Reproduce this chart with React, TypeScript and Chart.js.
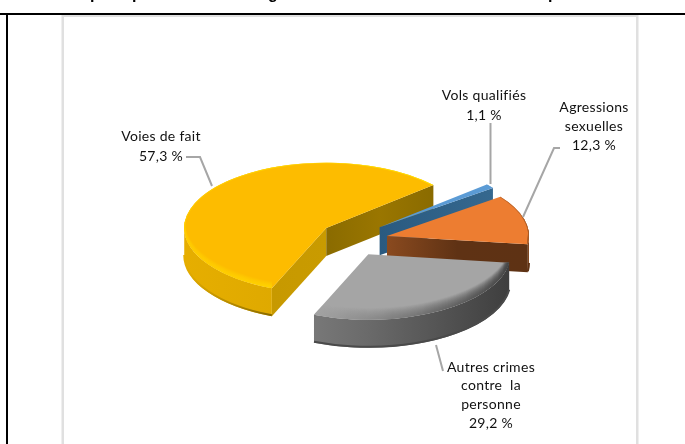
import React, { useEffect, useRef } from "react";
import { Chart, registerables } from "chart.js";

Chart.register(...registerables);

const categories = ["Vols qualifiés", "Agressions sexuelles", "Autres crimes contre la personne", "Voies de fait"];
const values = [1.1, 12.3, 29.2, 57.3];
const valueLabels = ["1,1 %", "12,3 %", "29,2 %", "57,3 %"];
const labelLines = [
  ["Vols qualifiés", "1,1 %"],
  ["Agressions", "sexuelles", "12,3 %"],
  ["Autres crimes", "contre  la", "personne", "29,2 %"],
  ["Voies de fait", "57,3 %"],
];
const topColors = ["#5b9bd5", "#ed7d31", "#a5a5a5", "#fdbc00"];

const SQUASH = 0.46;
const DEPTH = 28;
const EXPLODE = 33.6;
const PAINT_ORDER = [3, 0, 1, 2];

const sliceNudge = [
  { x: -1, y: 0 },
  { x: 0, y: 3 },
  { x: -3, y: 4 },
  { x: -1, y: 0 },
];
const sliceStyles = [
  { rim: ["#2f5f85", "#2f5f85"], cut: ["#2a5a80", "#35688f"], bevel: ["#5b9bd5", "#5b9bd5"], bevelSize: 1, base: ["#2f5f85", "#2f5f85"] },
  { rim: ["#5f3214", "#7d431b"], cut: ["#8a4a1f", "#5f3214", "#5e3214"], bevel: ["#ed7d31", "#ed7d31", "#ed7d31", "#a95a24"], bevelSize: 7, base: ["#5f3214", "#5f3214"] },
  { rim: ["#8e8e8e", "#6a6a6a", "#3e3e3e"], cut: ["#555555", "#555555"], bevel: ["#c8c8c8", "#8c8c8c", "#454545"], bevelSize: 11, base: ["#4a4a4a", "#4a4a4a"] },
  { rim: ["#e6ae00", "#cf9f00"], cut: ["#c79900", "#c99b00"], bevel: ["#ffcb00", "#ffe600"], bevelSize: 6, base: ["#e6ae00", "#7f6300", "#7f6300", "#7f6300"] },
];
const backCut = ["#8a6b00", "#9a7600", "#8a6b00"];

const labelAnchors = [
  { x: 484, y: 95, dy: 20 },
  { x: 594, y: 107, dy: 19 },
  { x: 491, y: 367, dy: 18.7 },
  { x: 161, y: 136, dy: 20 },
];
const leaders = [
  [[490.5, 123], [490.5, 184]],
  [[560, 148], [554, 148], [523, 217]],
  [[436, 345], [443, 371]],
  [[186, 157], [200, 157], [212, 186]],
];
const titleFragments = [
  { text: "p", x: 90 },
  { text: "p", x: 132 },
  { text: "g", x: 268 },
  { text: "p", x: 548 },
];

function gradientOf(ctx: CanvasRenderingContext2D, x0: number, x1: number, stops: string[]) {
  const g = ctx.createLinearGradient(x0, 0, x1, 0);
  stops.forEach((c, i) => g.addColorStop(i / (stops.length - 1), c));
  return g;
}

const pie3d = {
  id: "pie3d",
  beforeDraw(chart: any) {
    const ctx: CanvasRenderingContext2D = chart.ctx;
    ctx.save();
    ctx.fillStyle = "#ffffff";
    ctx.fillRect(0, 0, 685, 444);
    ctx.fillStyle = "#e0e0e0";
    ctx.fillRect(62, 15, 576, 2);
    ctx.fillRect(61.5, 15, 2.5, 429);
    ctx.fillRect(636, 15, 2.5, 429);
    ctx.fillStyle = "#ffffff";
    ctx.fillRect(64, 17, 572, 427);
    ctx.fillStyle = "#000000";
    ctx.fillRect(0, 13, 685, 2);
    ctx.fillRect(6, 13, 2, 431);
    ctx.font = "bold 16px 'Liberation Sans'";
    ctx.textBaseline = "alphabetic";
    ctx.textAlign = "left";
    titleFragments.forEach((t) => ctx.fillText(t.text, t.x, -1));
    ctx.restore();
  },
  beforeDatasetDraw(chart: any) {
    const ctx: CanvasRenderingContext2D = chart.ctx;
    const meta = chart.getDatasetMeta(0);
    PAINT_ORDER.forEach((i) => {
      const el = meta.data[i];
      const st = sliceStyles[i];
      const { startAngle: a0, endAngle: a1, outerRadius: R } = el;
      const mid = (a0 + a1) / 2;
      const ax = el.x + Math.cos(mid) * EXPLODE + sliceNudge[i].x;
      const ay = el.y + Math.sin(mid) * EXPLODE * SQUASH + sliceNudge[i].y;
      const rx = (a: number) => ax + Math.cos(a) * R;
      const ry = (a: number) => ay + Math.sin(a) * R * SQUASH;

      ctx.save();
      const cutFace = (a: number, stops: string[]) => {
        ctx.beginPath();
        ctx.moveTo(ax, ay);
        ctx.lineTo(rx(a), ry(a));
        ctx.lineTo(rx(a), ry(a) + DEPTH);
        ctx.lineTo(ax, ay + DEPTH);
        ctx.closePath();
        ctx.fillStyle = gradientOf(ctx, Math.min(ax, rx(a)), Math.max(ax, rx(a)), stops);
        ctx.fill();
      };
      if (Math.sin(a0 - Math.PI / 2) > 0) cutFace(a0, st.cut);
      if (Math.sin(a1 + Math.PI / 2) > 0) cutFace(a1, i === 3 ? backCut : st.cut);

      // outer rim: a single band between the top and bottom arcs
      const lo = Math.max(a0, 0);
      const hi = Math.min(a1, Math.PI);
      if (lo < hi) {
        ctx.beginPath();
        ctx.ellipse(ax, ay, R, R * SQUASH, 0, lo, hi);
        ctx.ellipse(ax, ay + DEPTH, R, R * SQUASH, 0, hi, lo, true);
        ctx.closePath();
        ctx.fillStyle = gradientOf(ctx, ax - R, ax + R, st.rim);
        ctx.fill();
        ctx.beginPath();
        ctx.ellipse(ax, ay + DEPTH - 1, R, R * SQUASH, 0, lo, hi);
        ctx.strokeStyle = gradientOf(ctx, ax - R, ax + R, st.base);
        ctx.lineWidth = 2;
        ctx.stroke();
      }

      // top face, drawn by the chart's own arc element
      ctx.save();
      ctx.translate(ax, ay);
      ctx.scale(1, SQUASH);
      ctx.translate(-el.x, -el.y);
      el.draw(ctx);
      ctx.restore();

      // bevel along the rim of the top face
      ctx.beginPath();
      ctx.moveTo(ax, ay);
      ctx.ellipse(ax, ay, R, R * SQUASH, 0, a0, a1);
      ctx.closePath();
      ctx.clip();
      ctx.strokeStyle = gradientOf(ctx, ax - R, ax + R, st.bevel);
      ctx.lineWidth = 1.6;
      for (let j = st.bevelSize; j >= 0; j -= 1) {
        ctx.globalAlpha = 1 - j / (st.bevelSize + 1);
        ctx.beginPath();
        ctx.ellipse(ax, ay - j, R, R * SQUASH, 0, a0, a1);
        ctx.stroke();
      }
      ctx.restore();
    });
    return false;
  },
  afterDatasetsDraw(chart: any) {
    const ctx: CanvasRenderingContext2D = chart.ctx;
    ctx.save();
    ctx.strokeStyle = "#a6a6a6";
    ctx.lineWidth = 2;
    leaders.forEach((pts) => {
      ctx.beginPath();
      pts.forEach((p, n) => (n ? ctx.lineTo(p[0], p[1]) : ctx.moveTo(p[0], p[1])));
      ctx.stroke();
    });
    ctx.fillStyle = "#111111";
    ctx.font = "14px Lato";
    (ctx as any).letterSpacing = "0.3px";
    ctx.textAlign = "center";
    ctx.textBaseline = "middle";
    labelLines.forEach((lines, i) => {
      const a = labelAnchors[i];
      lines.forEach((t, n) => ctx.fillText(t, a.x, a.y + n * a.dy));
    });
    ctx.restore();
  },
};

export default function App() {
  const ref = useRef<HTMLCanvasElement>(null);
  useEffect(() => {
    const chart = new Chart(ref.current as HTMLCanvasElement, {
      type: "pie",
      data: {
        labels: categories,
        datasets: [{ data: values, backgroundColor: topColors, borderWidth: 0 }],
      },
      options: {
        animation: false,
        responsive: false,
        rotation: 49,
        radius: 142,
        layout: { padding: { left: 24, top: 30 } },
        plugins: {
          legend: { display: false },
          tooltip: { enabled: false },
        },
      },
      plugins: [pie3d as any],
    });
    return () => chart.destroy();
  }, []);
  return (
    <canvas
      ref={ref}
      width={685}
      height={444}
      aria-label={valueLabels.join(", ")}
      style={{ position: "fixed", left: 0, top: 0, display: "block" }}
    />
  );
}
